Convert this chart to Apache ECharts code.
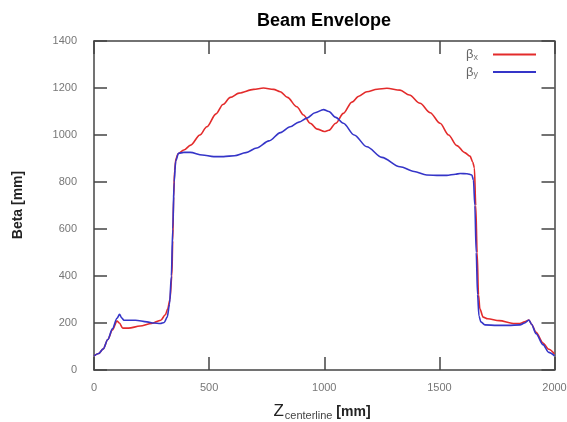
<!DOCTYPE html>
<html>
<head>
<meta charset="utf-8">
<script src="https://cdn.jsdelivr.net/npm/echarts@6/dist/echarts.min.js"></script>
<style>html,body{margin:0;padding:0;background:#fff}#c{width:567px;height:422px}</style>
</head>
<body>
<div id="c"></div>
<script>
var xTicks = [0, 500, 1000, 1500, 2000];
var yTicks = [0, 200, 400, 600, 800, 1000, 1200, 1400];

var betaX = [[0,60],[20,70],[40,90],[60,130],[80,170],[100,208],[110,200],[125,178],[150,178],[200,187],[250,198],[290,212],[310,235],[320,260],[330,300],[338,400],[342,550],[346,737],[350,850],[356,900],[365,920],[390,936],[420,957],[460,1000],[490,1035],[530,1090],[560,1130],[592,1160],[630,1178],[693,1194],[736,1200],[780,1194],[809,1184],[840,1160],[881,1120],[910,1085],[939,1050],[970,1025],[1000,1015],[1020,1020],[1050,1050],[1083,1092],[1120,1140],[1150,1165],[1185,1184],[1230,1195],[1272,1199],[1329,1191],[1370,1170],[1416,1135],[1460,1095],[1503,1050],[1540,1000],[1576,955],[1610,925],[1633,910],[1645,885],[1652,860],[1658,700],[1664,500],[1670,320],[1676,260],[1690,225],[1710,218],[1760,210],[1821,198],[1850,198],[1870,205],[1889,213],[1900,195],[1920,160],[1950,115],[1975,88],[2000,68]];

var betaY = [[0,60],[20,70],[40,90],[60,130],[80,175],[100,220],[111,237],[120,222],[130,212],[180,212],[230,205],[260,200],[288,198],[305,202],[318,225],[328,280],[336,400],[342,600],[348,800],[355,890],[367,922],[390,926],[418,926],[470,915],[520,908],[563,908],[610,912],[660,925],[707,945],[760,975],[810,1010],[852,1035],[890,1055],[925,1072],[960,1095],[997,1108],[1020,1100],[1050,1075],[1083,1050],[1130,1000],[1185,950],[1250,905],[1329,865],[1390,845],[1445,830],[1500,828],[1532,828],[1570,833],[1590,836],[1620,835],[1641,830],[1648,808],[1654,700],[1660,500],[1666,320],[1672,230],[1680,205],[1698,192],[1750,190],[1800,190],[1850,192],[1870,200],[1889,213],[1900,195],[1920,155],[1950,108],[1975,75],[2000,60]];

var chart = echarts.init(document.getElementById('c'), null, {renderer: 'canvas'});
var axisCol = '#444';
var labelCol = '#777';
function plain(v) { return String(v); }
function xAx(pos, show) {
  return {
    type: 'value', position: pos, min: xTicks[0], max: xTicks[xTicks.length-1], interval: 500,
    axisLine: {show: true, onZero: false, lineStyle: {color: axisCol, width: 1.5}},
    axisTick: {show: true, inside: true, length: 13, lineStyle: {color: axisCol, width: 1.5}},
    axisLabel: {show: show, color: labelCol, fontFamily: 'Liberation Sans', fontSize: 11, margin: 12, formatter: plain, hideOverlap: false},
    splitLine: {show: false}
  };
}
function yAx(pos, show) {
  return {
    type: 'value', position: pos, min: yTicks[0], max: yTicks[yTicks.length-1], interval: 200,
    axisLine: {show: true, onZero: false, lineStyle: {color: axisCol, width: 1.5}},
    axisTick: {show: true, inside: true, length: 13, lineStyle: {color: axisCol, width: 1.5}},
    axisLabel: {show: show, color: labelCol, fontFamily: 'Liberation Sans', fontSize: 11, margin: 17, formatter: plain},
    splitLine: {show: false}
  };
}
chart.setOption({
  animation: false,
  backgroundColor: '#fff',
  grid: {left: 94, right: 12.5, top: 41, bottom: 52, containLabel: false, outerBoundsMode: 'none'},
  xAxis: [xAx('bottom', true), xAx('top', false)],
  yAxis: [yAx('left', true), yAx('right', false)],
  legend: {
    orient: 'vertical', right: 26, top: 43, align: 'right',
    itemWidth: 43, itemHeight: 2, itemGap: 3.5,
    icon: 'rect',
    textStyle: {color: '#666', fontFamily: 'Liberation Sans', fontSize: 13, padding: [0, 10, 0, 0],
      rich: {b: {fontSize: 13, color: '#666', fontFamily: 'Liberation Sans'}, s: {fontSize: 9, color: '#777', fontFamily: 'Liberation Sans', verticalAlign: 'bottom', padding: [6, 0, 0, 0]}}},
    formatter: function (n) { return n === 'bx' ? '{b|β}{s|x}' : '{b|β}{s|y}'; },
    data: ['bx', 'by']
  },
  graphic: [
    {type: 'text', x: 324, y: 12, style: {text: 'Beam Envelope', font: 'bold 18px "Liberation Sans"', fill: '#000', textAlign: 'center'}},
    {type: 'text', x: 18, y: 205, rotation: Math.PI / 2, style: {text: 'Beta [mm]', font: 'bold 14px "Liberation Sans"', fill: '#222', textAlign: 'center', textVerticalAlign: 'middle'}},
    {type: 'text', x: 322, y: 401, style: {
      text: '{z|Z}{s|centerline}{m| [mm]}', textAlign: 'center',
      rich: {
        z: {font: '17px "Liberation Sans"', fill: '#222'},
        s: {font: '11px "Liberation Sans"', fill: '#444', padding: [9, 0, 0, 1]},
        m: {font: 'bold 14px "Liberation Sans"', fill: '#222', padding: [3, 0, 0, 0]}
      }
    }}
  ],
  series: [
    {name: 'bx', type: 'line', data: betaX, showSymbol: false, smooth: 0.3, smoothMonotone: 'x',
      lineStyle: {color: '#e32b2b', width: 1.6}, itemStyle: {color: '#e32b2b'}},
    {name: 'by', type: 'line', data: betaY, showSymbol: false, smooth: 0.3, smoothMonotone: 'x',
      lineStyle: {color: '#3535c8', width: 1.6}, itemStyle: {color: '#3535c8'}}
  ]
});
</script>
</body>
</html>
